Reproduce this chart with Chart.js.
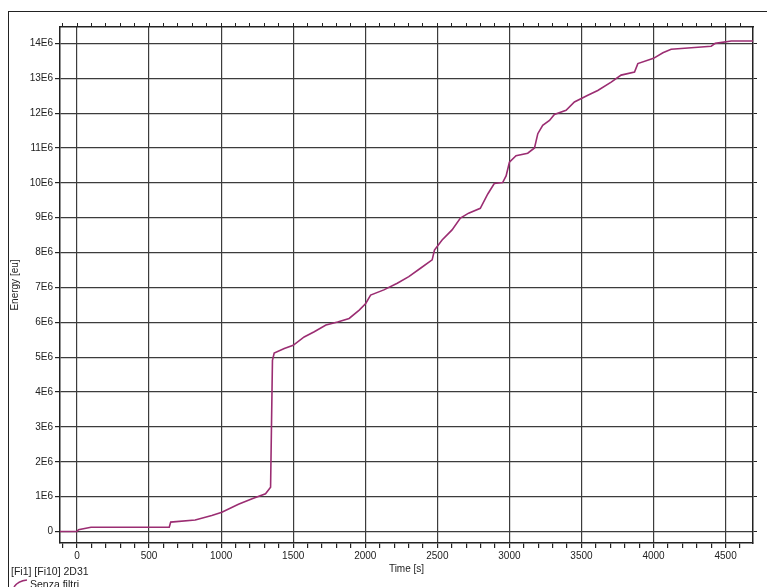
<!DOCTYPE html>
<html>
<head>
<meta charset="utf-8">
<script src="https://cdn.jsdelivr.net/npm/chart.js@4/dist/chart.umd.min.js"></script>
<style>
  body { margin: 0; background: #fff; }
  #wrap { position: relative; width: 767px; height: 587px; overflow: hidden; font-family: "Liberation Sans", Arial, sans-serif; color: #222; }
  #frame { position: absolute; left: 8px; top: 11px; width: 780px; height: 600px; border-left: 1.5px solid #222; border-top: 1.5px solid #222; }
  canvas { position: absolute; left: 0; top: 0; }
  #src { position: absolute; left: 11px; top: 565px; font-size: 10.5px; }
  #leg { position: absolute; left: 12px; top: 578px; font-size: 10.5px; white-space: nowrap; }
  #leg svg { vertical-align: top; }
</style>
</head>
<body>
<div id="wrap">
  <div id="frame"></div>
  <canvas id="chart" width="767" height="587"></canvas>
  <div id="src">[Fi1] [Fi10] 2D31</div>
  <div id="leg"><svg width="18" height="10"><path d="M2 9 Q6 3 15 2" stroke="#9b2d72" stroke-width="1.5" fill="none"/></svg>Senza filtri</div>
</div>
<script>
// values (time in s, energy in eu)
const timeSec = [-118, 0, 10, 97, 640, 650, 820, 935, 1005, 1120, 1215, 1308, 1343, 1356, 1368,
  1438, 1500, 1576, 1646, 1727, 1808, 1888, 1958, 2003, 2037, 2129, 2222, 2302, 2383, 2464,
  2480, 2533, 2602, 2660, 2717, 2798, 2850, 2895, 2953, 2977, 3000, 3046, 3127, 3174, 3197,
  3231, 3278, 3312, 3393, 3451, 3544, 3613, 3706, 3775, 3868, 3891, 4000, 4065, 4122, 4285,
  4400, 4428, 4539, 4690];
const energyEu = [0, 0, 0.05e6, 0.12e6, 0.12e6, 0.27e6, 0.33e6, 0.46e6, 0.55e6, 0.78e6, 0.94e6, 1.08e6, 1.27e6, 4.91e6, 5.12e6,
  5.25e6, 5.34e6, 5.58e6, 5.73e6, 5.92e6, 6.01e6, 6.11e6, 6.35e6, 6.54e6, 6.78e6, 6.93e6, 7.12e6, 7.31e6, 7.55e6, 7.79e6,
  8.07e6, 8.36e6, 8.65e6, 8.99e6, 9.13e6, 9.27e6, 9.68e6, 9.98e6, 10.01e6, 10.2e6, 10.59e6, 10.78e6, 10.85e6, 11.0e6, 11.41e6,
  11.65e6, 11.79e6, 11.96e6, 12.08e6, 12.32e6, 12.51e6, 12.65e6, 12.89e6, 13.09e6, 13.18e6, 13.42e6, 13.57e6, 13.73e6, 13.83e6, 13.88e6,
  13.92e6, 14.0e6, 14.07e6, 14.07e6];

const xRange = [-118, 4690];
const yRange = [-0.33e6, 14.47e6];
// tick positions: minor x ticks every 100 s, labelled every 500 s
const xTicks = [];
for (let t = -100; t <= 4600; t += 100) xTicks.push(t);
const xLabelled = [0, 500, 1000, 1500, 2000, 2500, 3000, 3500, 4000, 4500];
const yTicks = [0, 1e6, 2e6, 3e6, 4e6, 5e6, 6e6, 7e6, 8e6, 9e6, 10e6, 11e6, 12e6, 13e6, 14e6];
const yLabels = ['0', '1E6', '2E6', '3E6', '4E6', '5E6', '6E6', '7E6', '8E6', '9E6', '10E6', '11E6', '12E6', '13E6', '14E6'];

const ink = '#222';
const gridCol = '#3c3c3c';
const lineCol = '#9b2d72';
const font = { family: '"Liberation Sans", Arial, sans-serif', size: 10 };

const frameBorder = { display: true, color: ink, width: 1.5 };
const setTicks = vals => s => { s.ticks = vals.map(v => ({ value: v })); };

new Chart(document.getElementById('chart'), {
  type: 'line',
  data: {
    datasets: [{
      label: 'Senza filtri',
      data: timeSec.map((t, i) => ({ x: t, y: energyEu[i] })),
      borderColor: lineCol,
      borderWidth: 1.6,
      pointRadius: 0,
      tension: 0,
      fill: false
    }]
  },
  options: {
    responsive: false,
    animation: false,
    layout: { padding: 0 },
    plugins: { legend: { display: false }, tooltip: { enabled: false } },
    scales: {
      x: {
        type: 'linear', position: 'bottom', min: xRange[0], max: xRange[1],
        afterBuildTicks: setTicks(xTicks),
        ticks: {
          autoSkip: false, maxRotation: 0, minRotation: 0,
          padding: 2, color: ink, font: font,
          callback: v => (xLabelled.includes(v) ? String(v) : '')
        },
        grid: {
          color: c => (c.tick && xLabelled.includes(c.tick.value) ? gridCol : 'rgba(0,0,0,0)'),
          tickColor: ink, tickLength: 5, lineWidth: 1.2
        },
        border: frameBorder,
        title: { display: true, text: 'Time [s]', color: ink, font: font, padding: { top: 0, bottom: 12 } },
        afterFit: s => { s.height = 44; }
      },
      x2: {
        type: 'linear', position: 'top', min: xRange[0], max: xRange[1],
        afterBuildTicks: setTicks(xTicks),
        ticks: { display: false },
        grid: { drawOnChartArea: false, tickLength: 4, color: ink, lineWidth: 1 },
        border: frameBorder,
        afterFit: s => { s.height = 27; }
      },
      y: {
        type: 'linear', position: 'left', min: yRange[0], max: yRange[1],
        afterBuildTicks: setTicks(yTicks),
        ticks: {
          autoSkip: false, padding: 2, color: ink, font: font,
          callback: v => yLabels[yTicks.indexOf(v)]
        },
        grid: { color: gridCol, tickColor: ink, tickLength: 5, lineWidth: 1.2 },
        border: frameBorder,
        title: { display: true, text: 'Energy [eu]', color: ink, font: font, padding: { top: 9, bottom: 0 } },
        afterFit: s => { s.width = 60; }
      },
      y2: {
        type: 'linear', position: 'right', min: yRange[0], max: yRange[1],
        afterBuildTicks: setTicks(yTicks),
        ticks: { display: false },
        grid: { drawOnChartArea: false, tickLength: 4, color: ink, lineWidth: 1 },
        border: frameBorder,
        afterFit: s => { s.width = 14; }
      }
    }
  }
});
</script>
</body>
</html>
